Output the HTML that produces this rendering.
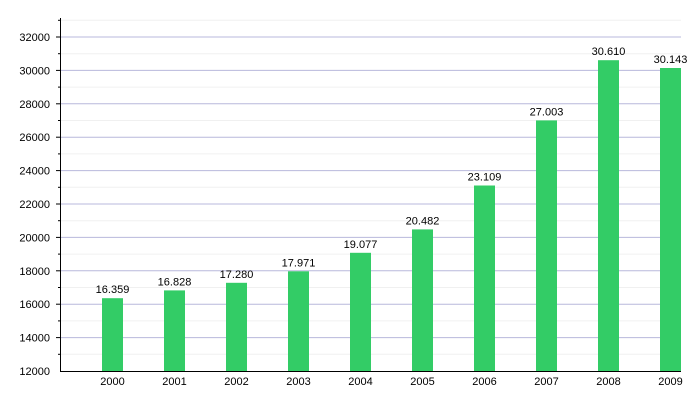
<!DOCTYPE html>
<html><head><style>body{margin:0;background:#fff}svg{font-family:"Liberation Sans",sans-serif;font-size:11px}</style></head>
<body>
<svg width="700" height="400" xmlns="http://www.w3.org/2000/svg">
<g stroke="#f0f0f0">
<line x1="61" x2="681" y1="354.3" y2="354.3"/><line x1="61" x2="681" y1="320.9" y2="320.9"/><line x1="61" x2="681" y1="287.5" y2="287.5"/><line x1="61" x2="681" y1="254.1" y2="254.1"/><line x1="61" x2="681" y1="220.7" y2="220.7"/><line x1="61" x2="681" y1="187.3" y2="187.3"/><line x1="61" x2="681" y1="153.9" y2="153.9"/><line x1="61" x2="681" y1="120.5" y2="120.5"/><line x1="61" x2="681" y1="87.1" y2="87.1"/><line x1="61" x2="681" y1="53.7" y2="53.7"/><line x1="61" x2="681" y1="20.3" y2="20.3"/>
</g>
<g stroke="#b8b8dc">
<line x1="61" x2="681" y1="337.6" y2="337.6"/><line x1="61" x2="681" y1="304.2" y2="304.2"/><line x1="61" x2="681" y1="270.8" y2="270.8"/><line x1="61" x2="681" y1="237.4" y2="237.4"/><line x1="61" x2="681" y1="204" y2="204"/><line x1="61" x2="681" y1="170.6" y2="170.6"/><line x1="61" x2="681" y1="137.2" y2="137.2"/><line x1="61" x2="681" y1="103.8" y2="103.8"/><line x1="61" x2="681" y1="70.4" y2="70.4"/><line x1="61" x2="681" y1="37" y2="37"/>
</g>
<g stroke="#000">
<line x1="56" x2="61" y1="337.6" y2="337.6"/><line x1="56" x2="61" y1="304.2" y2="304.2"/><line x1="56" x2="61" y1="270.8" y2="270.8"/><line x1="56" x2="61" y1="237.4" y2="237.4"/><line x1="56" x2="61" y1="204" y2="204"/><line x1="56" x2="61" y1="170.6" y2="170.6"/><line x1="56" x2="61" y1="137.2" y2="137.2"/><line x1="56" x2="61" y1="103.8" y2="103.8"/><line x1="56" x2="61" y1="70.4" y2="70.4"/><line x1="56" x2="61" y1="37" y2="37"/>
<line x1="58" x2="61" y1="354.3" y2="354.3"/><line x1="58" x2="61" y1="320.9" y2="320.9"/><line x1="58" x2="61" y1="287.5" y2="287.5"/><line x1="58" x2="61" y1="254.1" y2="254.1"/><line x1="58" x2="61" y1="220.7" y2="220.7"/><line x1="58" x2="61" y1="187.3" y2="187.3"/><line x1="58" x2="61" y1="153.9" y2="153.9"/><line x1="58" x2="61" y1="120.5" y2="120.5"/><line x1="58" x2="61" y1="87.1" y2="87.1"/><line x1="58" x2="61" y1="53.7" y2="53.7"/><line x1="58" x2="61" y1="20.3" y2="20.3"/>
</g>
<g text-anchor="end" fill="#000">
<text x="50" y="375">12000</text><text x="50" y="341.6">14000</text><text x="50" y="308.2">16000</text><text x="50" y="274.8">18000</text><text x="50" y="241.4">20000</text><text x="50" y="208">22000</text><text x="50" y="174.6">24000</text><text x="50" y="141.2">26000</text><text x="50" y="107.8">28000</text><text x="50" y="74.4">30000</text><text x="50" y="41">32000</text>
</g>
<g fill="#33cc66">
<rect x="102" y="298.2" width="21" height="72.8"/><rect x="164" y="290.4" width="21" height="80.6"/><rect x="226" y="282.8" width="21" height="88.2"/><rect x="288" y="271.3" width="21" height="99.7"/><rect x="350" y="252.8" width="21" height="118.2"/><rect x="412" y="229.4" width="21" height="141.6"/><rect x="474" y="185.5" width="21" height="185.5"/><rect x="536" y="120.4" width="21" height="250.6"/><rect x="598" y="60.2" width="21" height="310.8"/><rect x="660" y="68" width="21" height="303"/>
</g>
<g text-anchor="middle" fill="#000">
<text x="112.5" y="293.2">16.359</text><text x="174.5" y="285.4">16.828</text><text x="236.5" y="277.8">17.280</text><text x="298.5" y="266.3">17.971</text><text x="360.5" y="247.8">19.077</text><text x="422.5" y="224.4">20.482</text><text x="484.5" y="180.5">23.109</text><text x="546.5" y="115.4">27.003</text><text x="608.5" y="55.2">30.610</text><text x="670.5" y="63">30.143</text>
<text x="112.5" y="385">2000</text><text x="174.5" y="385">2001</text><text x="236.5" y="385">2002</text><text x="298.5" y="385">2003</text><text x="360.5" y="385">2004</text><text x="422.5" y="385">2005</text><text x="484.5" y="385">2006</text><text x="546.5" y="385">2007</text><text x="608.5" y="385">2008</text><text x="670.5" y="385">2009</text>
</g>
<line x1="60.5" x2="60.5" y1="18" y2="371.5" stroke="#000"/>
<line x1="60" x2="681" y1="371.5" y2="371.5" stroke="#000"/>
</svg>
</body></html>
